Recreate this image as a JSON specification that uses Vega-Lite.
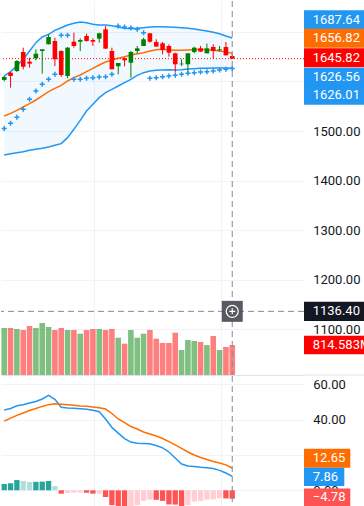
{
"$schema":"https://vega.github.io/schema/vega-lite/v6.json",
"padding":0,
"background":"#ffffff",
"spacing":1,
"bounds":"flush",
"config":{"view":{"stroke":null},"axis":{"labelFont":"Roboto","labelFontSize":13,"labelColor":"#131722","gridColor":"#f0f3fa","gridWidth":1,"ticks":false,"domain":false,"labelOverlap":false}},
"datasets":{
"ohlc":[
{"i":-1,"open":1603,"high":1611,"low":1600,"close":1609,"volume":1276000000,"upper":1610.9,"basis":1530.2,"lower":1451.6,"sar":1505},
{"i":0,"open":1617.6,"high":1619,"low":1587.3,"close":1610.9,"volume":1276000000,"upper":1619.6,"basis":1535.6,"lower":1454.3,"sar":1515.5},
{"i":1,"open":1620.9,"high":1643,"low":1619,"close":1641.1,"volume":1249000000,"upper":1631.0,"basis":1541.7,"lower":1456.3,"sar":1527.6},
{"i":2,"open":1659.3,"high":1668,"low":1624.4,"close":1629.6,"volume":1222000000,"upper":1644.5,"basis":1548.4,"lower":1458.3,"sar":1543.7},
{"i":3,"open":1639.7,"high":1647.8,"low":1627.6,"close":1635.7,"volume":1330000000,"upper":1661.3,"basis":1555.1,"lower":1461.0,"sar":1563.8},
{"i":4,"open":1646.6,"high":1664.7,"low":1642.5,"close":1655.8,"volume":1276000000,"upper":1678.1,"basis":1562.5,"lower":1463.0,"sar":1580.6},
{"i":5,"open":1661.3,"high":1664.7,"low":1615.5,"close":1664.7,"volume":1412000000,"upper":1689.5,"basis":1570.6,"lower":1465.1,"sar":1594.1},
{"i":6,"open":1674.8,"high":1695,"low":1674.8,"close":1689.5,"volume":1303000000,"upper":1694.9,"basis":1579.3,"lower":1467.7,"sar":1604.2},
{"i":7,"open":1681.5,"high":1688.1,"low":1631,"close":1644.6,"volume":1222000000,"upper":1703.0,"basis":1586.0,"lower":1471.1,"sar":1614.2},
{"i":8,"open":1661.3,"high":1662.7,"low":1608.9,"close":1612.9,"volume":1276000000,"upper":1708.3,"basis":1592.1,"lower":1474.5,"sar":1692.9},
{"i":9,"open":1610.9,"high":1669.4,"low":1606.2,"close":1668,"volume":1222000000,"upper":1713.7,"basis":1600.8,"lower":1486.6,"sar":1692.9},
{"i":10,"open":1680.1,"high":1698.2,"low":1668,"close":1671.4,"volume":1222000000,"upper":1717.1,"basis":1607.5,"lower":1503.4,"sar":1604.2},
{"i":11,"open":1680.1,"high":1686.9,"low":1661.3,"close":1683.5,"volume":1121000000,"upper":1719.8,"basis":1612.9,"lower":1521.5,"sar":1604.2},
{"i":12,"open":1691.5,"high":1696.2,"low":1680.1,"close":1681.5,"volume":1222000000,"upper":1718.4,"basis":1619.6,"lower":1540.3,"sar":1606.2},
{"i":13,"open":1683.5,"high":1686.9,"low":1671.4,"close":1680.1,"volume":1249000000,"upper":1715.1,"basis":1626.3,"lower":1553.8,"sar":1607.5},
{"i":14,"open":1686.2,"high":1698.2,"low":1678.1,"close":1697,"volume":1249000000,"upper":1713.7,"basis":1633.1,"lower":1567.2,"sar":1608.9},
{"i":15,"open":1705,"high":1711.7,"low":1666,"close":1666,"volume":1222000000,"upper":1713.7,"basis":1639.1,"lower":1577.3,"sar":1609.5},
{"i":16,"open":1661.3,"high":1668,"low":1624.4,"close":1624.4,"volume":1249000000,"upper":1712.4,"basis":1643.1,"lower":1584.0,"sar":1614.2},
{"i":17,"open":1630.6,"high":1637.1,"low":1614.3,"close":1637.1,"volume":1012799000,"upper":1709.7,"basis":1646.5,"lower":1590.7,"sar":1711.7},
{"i":18,"open":1646.6,"high":1648,"low":1630.6,"close":1642.5,"volume":849883000,"upper":1707.0,"basis":1649.9,"lower":1597.4,"sar":1709.7},
{"i":19,"open":1637.7,"high":1661.3,"low":1607.5,"close":1659.3,"volume":1222000000,"upper":1706.3,"basis":1653.2,"lower":1604.2,"sar":1708.3},
{"i":20,"open":1661.3,"high":1671.4,"low":1655.8,"close":1666.7,"volume":1012799000,"upper":1707.0,"basis":1655.9,"lower":1612.2,"sar":1705.0},
{"i":21,"open":1671.4,"high":1688,"low":1671.4,"close":1684.9,"volume":1121411000,"upper":1708.3,"basis":1657.9,"lower":1617.6,"sar":1698.3},
{"i":22,"open":1697,"high":1697,"low":1678,"close":1680.1,"volume":1222000000,"upper":1709.7,"basis":1661.3,"lower":1621.0,"sar":1606.2},
{"i":23,"open":1679.4,"high":1684.9,"low":1670,"close":1670.2,"volume":985647000,"upper":1710.3,"basis":1664.0,"lower":1622.3,"sar":1607.5},
{"i":24,"open":1676.8,"high":1679.4,"low":1654.6,"close":1663.3,"volume":868890000,"upper":1710.3,"basis":1664.7,"lower":1623.0,"sar":1609.5},
{"i":25,"open":1671.4,"high":1674.8,"low":1649.8,"close":1657.9,"volume":868890000,"upper":1709.7,"basis":1664.0,"lower":1623.7,"sar":1610.9},
{"i":26,"open":1656.6,"high":1658,"low":1617.6,"close":1634.5,"volume":1148563000,"upper":1709.0,"basis":1662.6,"lower":1623.0,"sar":1612.2},
{"i":27,"open":1634.5,"high":1644.6,"low":1631,"close":1635.7,"volume":678820000,"upper":1708.3,"basis":1662.6,"lower":1623.5,"sar":1614.2},
{"i":28,"open":1634.5,"high":1656.6,"low":1617.6,"close":1656.6,"volume":950348000,"upper":1707.0,"basis":1663.3,"lower":1625.0,"sar":1616.3},
{"i":29,"open":1659.3,"high":1670,"low":1656.6,"close":1668,"volume":923195000,"upper":1705.6,"basis":1664.0,"lower":1625.7,"sar":1617.6},
{"i":30,"open":1666.7,"high":1671.4,"low":1659.3,"close":1660,"volume":896042000,"upper":1703.6,"basis":1664.7,"lower":1626.3,"sar":1619.0},
{"i":31,"open":1656.6,"high":1676.2,"low":1656.6,"close":1666.7,"volume":812300000,"upper":1701.6,"basis":1664.0,"lower":1626.5,"sar":1619.6},
{"i":32,"open":1669.4,"high":1674.8,"low":1646.6,"close":1661.3,"volume":1058959000,"upper":1698.9,"basis":1662.6,"lower":1626.8,"sar":1621.0},
{"i":33,"open":1662.7,"high":1671.4,"low":1660,"close":1664.7,"volume":678820000,"upper":1696.2,"basis":1661.3,"lower":1627.0,"sar":1623.0},
{"i":34,"open":1669.4,"high":1679.4,"low":1652.6,"close":1652.6,"volume":760278000,"upper":1691.5,"basis":1659.3,"lower":1626.8,"sar":1624.3},
{"i":35,"open":1651.2,"high":1654.6,"low":1645,"close":1645.82,"volume":814583000,"upper":1687.64,"basis":1656.82,"lower":1626.56,"sar":1626.01}
],
"macd":[
{"i":-1,"macd":45.5,"signal":39.2,"hist":3.5,"trend":"grow_up"},
{"i":0,"macd":46.3,"signal":40.9,"hist":4.0,"trend":"grow_up"},
{"i":1,"macd":47.9,"signal":42.4,"hist":5.8,"trend":"grow_up"},
{"i":2,"macd":48.5,"signal":43.8,"hist":5.3,"trend":"fall_up"},
{"i":3,"macd":49.4,"signal":45.2,"hist":4.7,"trend":"fall_up"},
{"i":4,"macd":50.3,"signal":46.3,"hist":4.8,"trend":"grow_up"},
{"i":5,"macd":51.7,"signal":47.5,"hist":4.9,"trend":"grow_up"},
{"i":6,"macd":53.8,"signal":48.5,"hist":5.3,"trend":"grow_up"},
{"i":7,"macd":51.5,"signal":49.0,"hist":2.4,"trend":"fall_up"},
{"i":8,"macd":47.0,"signal":48.7,"hist":-1.9,"trend":"grow_down"},
{"i":9,"macd":46.6,"signal":48.4,"hist":-1.5,"trend":"fall_down"},
{"i":10,"macd":46.4,"signal":48.1,"hist":-1.3,"trend":"fall_down"},
{"i":11,"macd":46.2,"signal":47.8,"hist":-1.2,"trend":"fall_down"},
{"i":12,"macd":45.9,"signal":47.6,"hist":-1.4,"trend":"grow_down"},
{"i":13,"macd":45.3,"signal":47.2,"hist":-1.9,"trend":"grow_down"},
{"i":14,"macd":44.5,"signal":46.7,"hist":-1.8,"trend":"fall_down"},
{"i":15,"macd":40.4,"signal":46.0,"hist":-3.8,"trend":"grow_down"},
{"i":16,"macd":35.6,"signal":43.5,"hist":-8.4,"trend":"grow_down"},
{"i":17,"macd":32.4,"signal":40.4,"hist":-10.5,"trend":"grow_down"},
{"i":18,"macd":29.3,"signal":38.3,"hist":-11.0,"trend":"grow_down"},
{"i":19,"macd":27.3,"signal":36.1,"hist":-10.8,"trend":"fall_down"},
{"i":20,"macd":26.6,"signal":34.7,"hist":-8.4,"trend":"fall_down"},
{"i":21,"macd":26.5,"signal":33.0,"hist":-6.0,"trend":"fall_down"},
{"i":22,"macd":26.4,"signal":31.9,"hist":-5.3,"trend":"fall_down"},
{"i":23,"macd":25.4,"signal":30.7,"hist":-5.4,"trend":"grow_down"},
{"i":24,"macd":24.0,"signal":29.3,"hist":-6.0,"trend":"grow_down"},
{"i":25,"macd":21.7,"signal":27.6,"hist":-8.0,"trend":"grow_down"},
{"i":26,"macd":18.3,"signal":25.7,"hist":-8.1,"trend":"grow_down"},
{"i":27,"macd":14.9,"signal":23.7,"hist":-10.0,"trend":"grow_down"},
{"i":28,"macd":13.8,"signal":21.7,"hist":-8.4,"trend":"fall_down"},
{"i":29,"macd":13.5,"signal":20.0,"hist":-6.4,"trend":"fall_down"},
{"i":30,"macd":13.0,"signal":18.6,"hist":-6.0,"trend":"fall_down"},
{"i":31,"macd":12.8,"signal":17.4,"hist":-5.3,"trend":"fall_down"},
{"i":32,"macd":12.3,"signal":16.3,"hist":-5.1,"trend":"fall_down"},
{"i":33,"macd":11.3,"signal":15.4,"hist":-4.5,"trend":"fall_down"},
{"i":34,"macd":9.8,"signal":14.4,"hist":-4.6,"trend":"grow_down"},
{"i":35,"macd":7.86,"signal":12.65,"hist":-4.78,"trend":"grow_down"}
],
"cursor":[{"i":35,"price":1136.4}]
},
"vconcat":[
{
"width":303,"height":374,
"data":{"name":"ohlc"},
"resolve":{"scale":{"y":"independent"},"axis":{"y":"independent"}},
"layer":[
{
"layer":[
{"mark":{"type":"bar","size":5.6,"clip":true,"opacity":0.5},
 "encoding":{
  "x":{"field":"i","type":"quantitative","title":null,"scale":{"domain":[-0.72,45.54],"nice":false,"zero":false},"axis":{"values":[13.13,33.17],"labels":false,"grid":true,"domain":true,"domainColor":"#e0e3eb","ticks":false}},
  "y":{"field":"volume","type":"quantitative","title":null,"scale":{"domain":[0,10155000000],"nice":false},"axis":null},
  "color":{"condition":{"test":"datum.close>=datum.open","value":"#008000"},"value":"#ff0000"}}},
{"transform":[{"filter":"datum.i==35"}],
 "layer":[
  {"mark":{"type":"point","shape":"M0,-0.295L2,-0.295L2,0.295L0,0.295Z","size":3844,"filled":true,"opacity":1,"strokeWidth":0,"color":"#ff0000"},
   "encoding":{"x":{"value":"width"},"y":{"field":"volume","type":"quantitative","title":null}}},
  {"mark":{"type":"text","align":"left","baseline":"middle","dx":8.7,"color":"#ffffff","font":"Roboto","fontSize":13},
   "encoding":{"x":{"value":"width"},"y":{"field":"volume","type":"quantitative","title":null},"text":{"field":"volume","type":"quantitative","format":".6s"}}},
  {"mark":{"type":"point","shape":"M0,0L2,0","size":3844,"filled":false,"opacity":1,"strokeWidth":1,"color":"#e0e3eb"},
   "encoding":{"x":{"value":"width"},"y":{"value":"height"}}}
 ]}
]
},
{
"layer":[
{"mark":{"type":"area","clip":true,"color":"#2196f3","opacity":0.06},
 "encoding":{
  "x":{"field":"i","type":"quantitative","title":null},
  "y":{"field":"upper","type":"quantitative","title":null,"scale":{"domain":[1008.06,1762.1],"nice":false,"zero":false},"axis":{"orient":"right","values":[1100,1200,1300,1400,1500,1600,1700],"format":".2f","labelExpr":"datum.value>=1600 ? '' : datum.label","grid":true,"labelPadding":8.7}},
  "y2":{"field":"lower"}}},
{"mark":{"type":"line","clip":true,"color":"#2196f3","strokeWidth":1.5},
 "encoding":{"x":{"field":"i","type":"quantitative","title":null},"y":{"field":"upper","type":"quantitative","title":null}}},
{"mark":{"type":"line","clip":true,"color":"#2196f3","strokeWidth":1.5},
 "encoding":{"x":{"field":"i","type":"quantitative","title":null},"y":{"field":"lower","type":"quantitative","title":null}}},
{"mark":{"type":"line","clip":true,"color":"#ff6d00","strokeWidth":1.5},
 "encoding":{"x":{"field":"i","type":"quantitative","title":null},"y":{"field":"basis","type":"quantitative","title":null}}},
{"transform":[{"filter":"datum.i==35"}],
 "mark":{"type":"rule","color":"#ff0000","strokeDash":[1,2],"strokeWidth":1},
 "encoding":{"y":{"field":"close","type":"quantitative","title":null}}},
{"data":{"name":"cursor"},
 "mark":{"type":"rule","color":"#868993","strokeDash":[6,4],"strokeWidth":1},
 "encoding":{"y":{"field":"price","type":"quantitative","title":null}}},
{"mark":{"type":"rule","clip":true,"strokeWidth":1},
 "encoding":{"x":{"field":"i","type":"quantitative","title":null},"y":{"field":"low","type":"quantitative","title":null},"y2":{"field":"high"},
  "color":{"condition":{"test":"datum.close>=datum.open","value":"#008000"},"value":"#ff0000"}}},
{"mark":{"type":"bar","size":4.6,"clip":true},
 "encoding":{"x":{"field":"i","type":"quantitative","title":null},"y":{"field":"open","type":"quantitative","title":null},"y2":{"field":"close"},
  "color":{"condition":{"test":"datum.close>=datum.open","value":"#008000"},"value":"#ff0000"}}},
{"mark":{"type":"point","shape":"M-1,0L1,0M0,-1L0,1","size":25,"filled":false,"opacity":1,"strokeWidth":1.5,"color":"#2196f3","clip":true},
 "encoding":{"x":{"field":"i","type":"quantitative","title":null},"y":{"field":"sar","type":"quantitative","title":null}}},
{"data":{"name":"cursor"},
 "layer":[
  {"mark":{"type":"rule","color":"#868993","strokeDash":[6,4],"strokeWidth":1},
   "encoding":{"x":{"field":"i","type":"quantitative","title":null}}},
  {"mark":{"type":"point","shape":"square","size":441,"filled":true,"opacity":0.92,"strokeWidth":0,"color":"#4a4c55"},
   "encoding":{"x":{"field":"i","type":"quantitative","title":null},"y":{"field":"price","type":"quantitative","title":null}}},
  {"mark":{"type":"point","shape":"circle","size":144,"filled":false,"opacity":1,"strokeWidth":1.2,"color":"#ffffff"},
   "encoding":{"x":{"field":"i","type":"quantitative","title":null},"y":{"field":"price","type":"quantitative","title":null}}},
  {"mark":{"type":"point","shape":"M-0.6,0L0.6,0M0,-0.6L0,0.6","size":100,"filled":false,"opacity":1,"strokeWidth":1.2,"color":"#ffffff"},
   "encoding":{"x":{"field":"i","type":"quantitative","title":null},"y":{"field":"price","type":"quantitative","title":null}}},
  {"mark":{"type":"point","shape":"M0,-0.311L2,-0.311L2,0.311L0,0.311Z","size":3844,"filled":true,"opacity":1,"strokeWidth":0,"color":"#131722"},
   "encoding":{"x":{"value":"width"},"y":{"field":"price","type":"quantitative","title":null}}},
  {"mark":{"type":"text","align":"left","baseline":"middle","dx":8.7,"color":"#ffffff","font":"Roboto","fontSize":13},
   "encoding":{"x":{"value":"width"},"y":{"field":"price","type":"quantitative","title":null},"text":{"field":"price","type":"quantitative","format":".2f"}}}
 ]},
{"transform":[{"filter":"datum.i==35"}],
 "layer":[
  {"mark":{"type":"point","shape":"M0,-0.3065L2,-0.3065L2,0.3065L0,0.3065Z","size":3844,"filled":true,"opacity":1,"strokeWidth":0,"color":"#2196f3","yOffset":-18.2},
   "encoding":{"x":{"value":"width"},"y":{"field":"upper","type":"quantitative","title":null}}},
  {"mark":{"type":"text","align":"left","baseline":"middle","dx":8.7,"yOffset":-18.2,"color":"#ffffff","font":"Roboto","fontSize":13},
   "encoding":{"x":{"value":"width"},"y":{"field":"upper","type":"quantitative","title":null},"text":{"field":"upper","type":"quantitative","format":".2f"}}},
  {"mark":{"type":"point","shape":"M0,-0.3065L2,-0.3065L2,0.3065L0,0.3065Z","size":3844,"filled":true,"opacity":1,"strokeWidth":0,"color":"#ff6d00","yOffset":-15.0},
   "encoding":{"x":{"value":"width"},"y":{"field":"basis","type":"quantitative","title":null}}},
  {"mark":{"type":"text","align":"left","baseline":"middle","dx":8.7,"yOffset":-15.0,"color":"#ffffff","font":"Roboto","fontSize":13},
   "encoding":{"x":{"value":"width"},"y":{"field":"basis","type":"quantitative","title":null},"text":{"field":"basis","type":"quantitative","format":".2f"}}},
  {"mark":{"type":"point","shape":"M0,-0.3065L2,-0.3065L2,0.3065L0,0.3065Z","size":3844,"filled":true,"opacity":1,"strokeWidth":0,"color":"#ff0000","yOffset":-1.0},
   "encoding":{"x":{"value":"width"},"y":{"field":"close","type":"quantitative","title":null}}},
  {"mark":{"type":"text","align":"left","baseline":"middle","dx":8.7,"yOffset":-1.0,"color":"#ffffff","font":"Roboto","fontSize":13},
   "encoding":{"x":{"value":"width"},"y":{"field":"close","type":"quantitative","title":null},"text":{"field":"close","type":"quantitative","format":".2f"}}},
  {"mark":{"type":"point","shape":"M0,-0.3065L2,-0.3065L2,0.3065L0,0.3065Z","size":3844,"filled":true,"opacity":1,"strokeWidth":0,"color":"#2196f3","yOffset":9.0},
   "encoding":{"x":{"value":"width"},"y":{"field":"lower","type":"quantitative","title":null}}},
  {"mark":{"type":"text","align":"left","baseline":"middle","dx":8.7,"yOffset":9.0,"color":"#ffffff","font":"Roboto","fontSize":13},
   "encoding":{"x":{"value":"width"},"y":{"field":"lower","type":"quantitative","title":null},"text":{"field":"lower","type":"quantitative","format":".2f"}}},
  {"mark":{"type":"point","shape":"M0,-0.3065L2,-0.3065L2,0.3065L0,0.3065Z","size":3844,"filled":true,"opacity":1,"strokeWidth":0,"color":"#2196f3","yOffset":26.7},
   "encoding":{"x":{"value":"width"},"y":{"field":"sar","type":"quantitative","title":null}}},
  {"mark":{"type":"text","align":"left","baseline":"middle","dx":8.7,"yOffset":26.7,"color":"#ffffff","font":"Roboto","fontSize":13},
   "encoding":{"x":{"value":"width"},"y":{"field":"sar","type":"quantitative","title":null},"text":{"field":"sar","type":"quantitative","format":".2f"}}}
 ]}
]
}
]
},
{
"width":303,"height":131,
"data":{"name":"macd"},
"layer":[
{"mark":{"type":"bar","size":5.3,"clip":true},
 "encoding":{
  "x":{"field":"i","type":"quantitative","title":null,"scale":{"domain":[-0.72,45.54],"nice":false,"zero":false},"axis":{"values":[13.13,33.17],"labels":false,"grid":true,"domain":false,"ticks":false}},
  "y":{"field":"hist","type":"quantitative","title":null,"scale":{"domain":[-9.46,64.72],"nice":false,"zero":false},"axis":{"orient":"right","values":[0,20,40,60],"format":".2f","labelExpr":"datum.value==20 ? '' : datum.label","grid":true,"labelPadding":8.7}},
  "y2":{"datum":0},
  "color":{"field":"trend","type":"nominal","legend":null,"scale":{"domain":["grow_up","fall_up","grow_down","fall_down"],"range":["#26a69a","#b2dfdb","#ff5252","#ffcdd2"]}}}},
{"mark":{"type":"line","clip":true,"color":"#2196f3","strokeWidth":1.5},
 "encoding":{"x":{"field":"i","type":"quantitative","title":null},"y":{"field":"macd","type":"quantitative","title":null}}},
{"mark":{"type":"line","clip":true,"color":"#ff6d00","strokeWidth":1.5},
 "encoding":{"x":{"field":"i","type":"quantitative","title":null},"y":{"field":"signal","type":"quantitative","title":null}}},
{"data":{"name":"cursor"},
 "mark":{"type":"rule","color":"#868993","strokeDash":[6,4],"strokeWidth":1},
 "encoding":{"x":{"field":"i","type":"quantitative","title":null}}},
{"transform":[{"filter":"datum.i==35"}],
 "layer":[
  {"mark":{"type":"point","shape":"M0,-0.41L2,-0.41L2,0.41L0,0.41Z","size":2144,"filled":true,"opacity":1,"strokeWidth":0,"color":"#ff6d00","yOffset":-9.8},
   "encoding":{"x":{"value":"width"},"y":{"field":"signal","type":"quantitative","title":null}}},
  {"mark":{"type":"text","align":"left","baseline":"middle","dx":8.7,"yOffset":-9.8,"color":"#ffffff","font":"Roboto","fontSize":13},
   "encoding":{"x":{"value":"width"},"y":{"field":"signal","type":"quantitative","title":null},"text":{"field":"signal","type":"quantitative","format":".2f"}}},
  {"mark":{"type":"point","shape":"M0,-0.454L2,-0.454L2,0.454L0,0.454Z","size":1624,"filled":true,"opacity":1,"strokeWidth":0,"color":"#2196f3","yOffset":0.4},
   "encoding":{"x":{"value":"width"},"y":{"field":"macd","type":"quantitative","title":null}}},
  {"mark":{"type":"text","align":"left","baseline":"middle","dx":8.7,"yOffset":0.4,"color":"#ffffff","font":"Roboto","fontSize":13},
   "encoding":{"x":{"value":"width"},"y":{"field":"macd","type":"quantitative","title":null},"text":{"field":"macd","type":"quantitative","format":".2f"}}},
  {"mark":{"type":"point","shape":"M0,-0.378L2,-0.378L2,0.378L0,0.378Z","size":2144,"filled":true,"opacity":1,"strokeWidth":0,"color":"#ff5252","yOffset":-1.4},
   "encoding":{"x":{"value":"width"},"y":{"field":"hist","type":"quantitative","title":null}}},
  {"mark":{"type":"text","align":"left","baseline":"middle","dx":8.7,"yOffset":-1.4,"color":"#ffffff","font":"Roboto","fontSize":13},
   "encoding":{"x":{"value":"width"},"y":{"field":"hist","type":"quantitative","title":null},"text":{"field":"hist","type":"quantitative","format":".2f"}}}
 ]}
]
}
]
}
